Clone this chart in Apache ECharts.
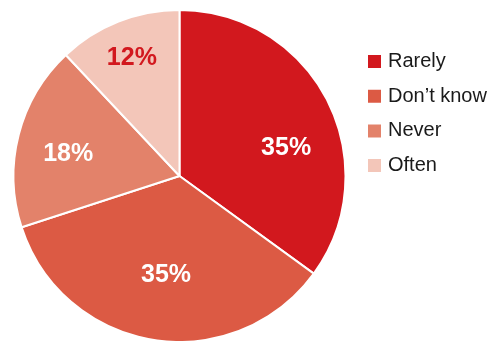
<!DOCTYPE html>
<html><head><meta charset="utf-8">
<script src="https://cdn.jsdelivr.net/npm/echarts@6/dist/echarts.min.js"></script>
<style>html,body{margin:0;padding:0;background:#fff}#c{width:492px;height:341px}</style>
</head><body><div id="c"></div>
<script>
const categories = ["Rarely", "Don\u2019t know", "Never", "Often"];
const values = [35, 35, 18, 12];
const colors = ["#d2181e", "#dc5a44", "#e3826a", "#f3c6b9"];
const labelColors = ["#ffffff", "#ffffff", "#ffffff", "#d2181e"];
const labelShift = [[30, 11], [0, 14], [-28, -1], [-16, -38]];

const chart = echarts.init(document.getElementById('c'), null, {renderer: 'canvas'});
chart.setOption({
  animation: false,
  legend: {
    orient: 'vertical',
    left: 366, top: 51.5,
    padding: 0,
    itemWidth: 15, itemHeight: 15, itemGap: 14.7,
    icon: 'rect',
    textStyle: {fontFamily: 'Liberation Sans', fontSize: 20, color: '#1a1a1a', lineHeight: 15, padding: [5, 0, 0, 1]},
    data: categories
  },
  series: [{
    type: 'pie',
    center: [179.5, 176],
    radius: [0, 166],
    startAngle: 90,
    clockwise: true,
    itemStyle: {borderColor: '#ffffff', borderWidth: 2},
    label: {
      position: 'inside',
      fontFamily: 'Liberation Sans',
      fontWeight: 'bold',
      fontSize: 25,
      formatter: p => p.value + '%'
    },
    labelLayout: p => ({dx: labelShift[p.dataIndex][0], dy: labelShift[p.dataIndex][1]}),
    emphasis: {disabled: true},
    data: categories.map((n, i) => ({
      name: n, value: values[i],
      itemStyle: {color: colors[i]},
      label: {color: labelColors[i]}
    }))
  }]
});
</script></body></html>
